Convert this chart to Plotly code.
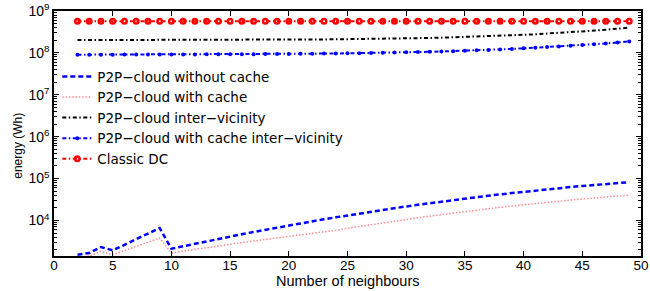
import plotly.graph_objects as go

# ---- data ----
neighbours = list(range(2, 50))

p2p_no_cache = [1520, 1670, 2330, 1930, 2630, 3570, 4860, 6600,
                2118, 2432, 2788, 3190, 3637, 4137, 4696, 5321, 6012, 6776,
                7621, 8551, 9572, 10690, 11890, 13220, 14660, 16220, 17900, 19690,
                21630, 23710, 25880, 28250, 30760, 33340, 36140, 39000, 42070, 45190,
                48530, 51880, 55460, 59020, 62660, 66530, 70310, 74130, 77980, 82040]

p2p_cache = [1300, 1420, 1830, 1520, 1910, 2410, 3030, 3810,
             1682, 1858, 2052, 2259, 2477, 2714, 2963, 3230, 3517, 3808,
             4123, 4455, 4796, 5238, 5826, 6478, 7183, 7948, 8771, 9648,
             10600, 11620, 12680, 13840, 15070, 16340, 17710, 19110, 20610, 22140,
             23780, 25420, 27180, 28920, 30700, 32600, 34450, 36320, 38210, 40200]

p2p_inter = [2.02e8, 2.02e8, 2.02e8, 2.03e8, 2.03e8, 2.03e8, 2.03e8, 2.04e8, 2.04e8,
             2.04e8, 2.04e8, 2.05e8, 2.05e8, 2.05e8, 2.05e8, 2.06e8, 2.06e8, 2.06e8,
             2.07e8, 2.08e8, 2.08e8, 2.10e8, 2.11e8, 2.12e8, 2.14e8, 2.15e8, 2.17e8,
             2.19e8, 2.22e8, 2.24e8, 2.27e8, 2.31e8, 2.35e8, 2.39e8, 2.44e8, 2.49e8,
             2.55e8, 2.62e8, 2.70e8, 2.78e8, 2.88e8, 2.99e8, 3.11e8, 3.25e8, 3.41e8,
             3.58e8, 3.78e8, 4.00e8]

p2p_cache_inter = [9.06e7, 9.07e7, 9.08e7, 9.09e7, 9.10e7, 9.12e7, 9.13e7, 9.15e7, 9.17e7,
                   9.19e7, 9.21e7, 9.23e7, 9.25e7, 9.28e7, 9.31e7, 9.34e7, 9.37e7, 9.41e7,
                   9.45e7, 9.50e7, 9.56e7, 9.62e7, 9.68e7, 9.75e7, 9.85e7, 9.95e7, 1.005e8,
                   1.017e8, 1.030e8, 1.045e8, 1.062e8, 1.080e8, 1.100e8, 1.125e8, 1.150e8,
                   1.180e8, 1.210e8, 1.245e8, 1.285e8, 1.330e8, 1.375e8, 1.425e8, 1.480e8,
                   1.540e8, 1.610e8, 1.680e8, 1.770e8, 1.880e8]

classic_dc = [5.7e8, 5.7e8, 5.7e8, 5.7e8, 5.7e8, 5.7e8, 5.7e8, 5.7e8, 5.7e8, 5.7e8,
              5.7e8, 5.7e8, 5.7e8, 5.7e8, 5.7e8, 5.7e8, 5.7e8, 5.7e8, 5.7e8, 5.7e8,
              5.7e8, 5.7e8, 5.7e8, 5.7e8, 5.7e8, 5.7e8, 5.7e8, 5.7e8, 5.7e8, 5.7e8,
              5.7e8, 5.7e8, 5.7e8, 5.7e8, 5.7e8, 5.7e8, 5.7e8, 5.7e8, 5.7e8, 5.7e8,
              5.7e8, 5.7e8, 5.7e8, 5.7e8, 5.7e8, 5.7e8, 5.7e8, 5.7e8]

x_ticks = [0, 5, 10, 15, 20, 25, 30, 35, 40, 45, 50]
y_ticks = [1e4, 1e5, 1e6, 1e7, 1e8, 1e9]
y_tick_text = ["10<sup>4</sup>", "10<sup>5</sup>", "10<sup>6</sup>",
               "10<sup>7</sup>", "10<sup>8</sup>", "10<sup>9</sup>"]

names = ["P2P−cloud without cache", "P2P−cloud with cache",
         "P2P−cloud inter−vicinity", "P2P−cloud with cache inter−vicinity",
         "Classic DC"]
x_title = "Number of neighbours"
y_title = "energy (Wh)"

FONT = "Liberation Sans, Arial, sans-serif"
LEG_FONT = "DejaVu Sans, sans-serif"

fig = go.Figure()
fig.add_trace(go.Scatter(x=neighbours, y=p2p_no_cache, name=names[0], mode="lines",
                         line=dict(color="#0000ff", width=2.5, dash="5px,3px")))
fig.add_trace(go.Scatter(x=neighbours, y=p2p_cache, name=names[1], mode="lines",
                         line=dict(color="#ff8c8c", width=1.5, dash="1.5px,1.8px")))
fig.add_trace(go.Scatter(x=neighbours, y=p2p_inter, name=names[2], mode="lines",
                         line=dict(color="#000000", width=2, dash="4px,2.5px,1.5px,2.5px")))
fig.add_trace(go.Scatter(x=neighbours, y=p2p_cache_inter, name=names[3], mode="lines+markers",
                         line=dict(color="#0000ff", width=2, dash="4px,2.5px,1.5px,2.5px"),
                         marker=dict(symbol="circle", size=4, color="#0000ff")))
fig.add_trace(go.Scatter(x=neighbours, y=classic_dc, name=names[4], mode="lines+markers",
                         line=dict(color="#ff0000", width=2, dash="4px,2.5px,1.5px,2.5px"),
                         marker=dict(symbol="circle-open", size=4.5, color="#ff0000",
                                     line=dict(width=2.5, color="#ff0000"))))

axis_common = dict(showline=True, linecolor="black", linewidth=1.5, mirror="ticks",
                   ticks="inside", tickcolor="black", showgrid=False, zeroline=False,
                   automargin=False, ticklabeloverflow="allow")

fig.update_xaxes(range=[0, 50], tickvals=x_ticks, ticklen=5, tickwidth=1,
                 ticklabelstandoff=-4,
                 tickfont=dict(family=FONT, size=13.5, color="black"), **axis_common)
fig.update_yaxes(type="log", range=[3.152, 9], tickvals=y_ticks, ticktext=y_tick_text,
                 ticklen=5, tickwidth=1,
                 tickfont=dict(family=FONT, size=14, color="black"),
                 minor=dict(ticks="inside", ticklen=3, tickcolor="black", dtick="D1",
                            showgrid=False),
                 **axis_common)

fig.add_annotation(text=x_title, xref="paper", yref="paper", x=0.5, y=0,
                   xanchor="center", yanchor="middle", yshift=-25, showarrow=False,
                   font=dict(family=FONT, size=14.5, color="black"))
fig.add_annotation(text=y_title, xref="paper", yref="paper", x=0, y=0.45,
                   xanchor="center", yanchor="middle", xshift=-36, textangle=-90,
                   showarrow=False, font=dict(family=FONT, size=12, color="black"))

fig.update_layout(
    width=650, height=291,
    margin=dict(l=54, r=9, t=10.5, b=34.7),
    paper_bgcolor="white", plot_bgcolor="white",
    font=dict(family=FONT, size=14, color="black"),
    showlegend=True,
    legend=dict(x=0.0056, y=0.795, xanchor="left", yanchor="top",
                bgcolor="rgba(255,255,255,0)", borderwidth=0,
                font=dict(family=LEG_FONT, size=13.5, color="black"),
                itemwidth=30, tracegroupgap=0),
)

# remove the browser's default 8px page margin so the figure fills the 650x291 window
fig.write_html("out.html", config={"displayModeBar": False},
               post_script="document.body.style.margin='0px';")
